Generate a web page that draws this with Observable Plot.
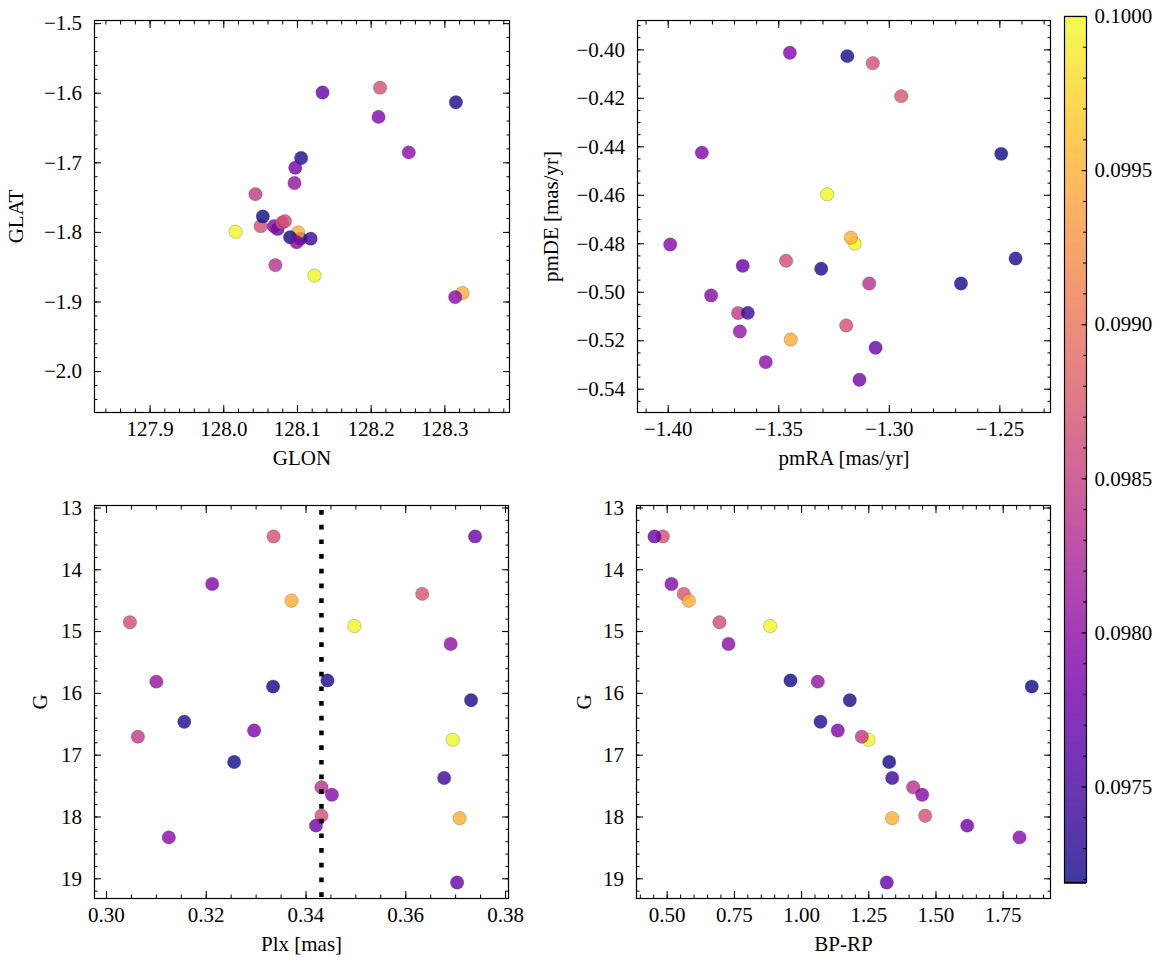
<!DOCTYPE html>
<html>
<head>
<meta charset="utf-8">
<script src="https://cdn.jsdelivr.net/npm/d3@7"></script>
<script src="https://cdn.jsdelivr.net/npm/@observablehq/plot@0.6"></script>
<style>
html, body { margin: 0; padding: 0; background: #fff; }
#fig { position: relative; width: 1166px; height: 965px; overflow: hidden; background: #fff; }
#fig svg { position: absolute; left: 0; top: 0; }
</style>
</head>
<body>
<div id="fig"></div>
<script>
// ---- data (one entry per star) ----
const G     = [13.46, 13.46, 14.23, 14.39, 14.50, 14.85, 14.91, 15.20, 15.79, 15.81, 15.89, 16.11, 16.46, 16.60, 16.75, 18.02, 16.70, 17.11, 17.37, 17.52, 17.64, 17.98, 18.14, 18.33, 19.06];
const Plx   = [0.3335, 0.3739, 0.3212, 0.3633, 0.3371, 0.3047, 0.3497, 0.3690, 0.3443, 0.3100, 0.3334, 0.3731, 0.3156, 0.3296, 0.3694, 0.3708, 0.3063, 0.3256, 0.3677, 0.3431, 0.3452, 0.3431, 0.3420, 0.3125, 0.3703];
const BPRP  = [0.4836, 0.4528, 0.5159, 0.5618, 0.5804, 0.6946, 0.8831, 0.7281, 0.9587, 1.0603, 1.8564, 1.1793, 1.0703, 1.1347, 1.2489, 1.3370, 1.2240, 1.3259, 1.3370, 1.4151, 1.4487, 1.4598, 1.6161, 1.8107, 1.3170];
const GLON  = [128.050, 128.073, 128.068, 128.079, 128.324, 128.083, 128.016, 128.251, 128.104, 128.096, 128.053, 128.315, 128.105, 128.210, 128.123, 128.101, 128.043, 128.090, 128.118, 128.070, 128.099, 128.212, 128.097, 128.314, 128.134];
const GLAT  = [-1.791, -1.795, -1.791, -1.786, -1.887, -1.784, -1.799, -1.685, -1.809, -1.729, -1.777, -1.613, -1.693, -1.634, -1.862, -1.800, -1.745, -1.807, -1.809, -1.847, -1.814, -1.592, -1.707, -1.893, -1.599];
const pmRA  = [-1.3075, -1.3663, -1.3450, -1.2946, -1.3446, -1.3467, -1.3281, -1.3559, -1.3190, -1.3676, -1.2494, -1.3308, -1.2429, -1.3848, -1.3157, -1.3174, -1.3684, -1.2676, -1.3640, -1.3091, -1.3991, -1.3195, -1.3135, -1.3806, -1.3062];
const pmDE  = [-0.4055, -0.4891, -0.4012, -0.4191, -0.5195, -0.4870, -0.4596, -0.5288, -0.4026, -0.5162, -0.4429, -0.4903, -0.4861, -0.4424, -0.4799, -0.4775, -0.5086, -0.4964, -0.5085, -0.4964, -0.4803, -0.5137, -0.5361, -0.5013, -0.5229];
const Cval  = [0.09865, 0.09772, 0.09792, 0.09872, 0.09948, 0.09863, 0.09998, 0.09800, 0.09722, 0.09805, 0.09720, 0.09724, 0.09726, 0.09790, 0.10000, 0.09950, 0.09845, 0.09721, 0.09740, 0.09836, 0.09795, 0.09868, 0.09780, 0.09795, 0.09770];
const plxRef = [0.3431];

// ---- axis limits and tick labels ----
const glonDomain = [127.8246, 128.3877];
const glatDomain = [-2.0588, -1.4955];
const pmraDomain = [-1.4139, -1.2271];
const pmdeDomain = [-0.5496, -0.3879];
const plxDomain  = [0.2976, 0.3806];
const gDomain    = [19.319, 12.96];
const bprpDomain = [0.3858, 1.926];
const colorDomain = [0.09719, 0.1000];

const glonTicks = [127.9, 128.0, 128.1, 128.2, 128.3];
const glatTicks = [-1.5, -1.6, -1.7, -1.8, -1.9, -2.0];
const pmraTicks = [-1.40, -1.35, -1.30, -1.25];
const pmdeTicks = [-0.40, -0.42, -0.44, -0.46, -0.48, -0.50, -0.52, -0.54];
const plxTicks  = [0.30, 0.32, 0.34, 0.36, 0.38];
const gTicks    = [13, 14, 15, 16, 17, 18, 19];
const bprpTicks = [0.50, 0.75, 1.00, 1.25, 1.50, 1.75];
const cbarTicks = [0.0975, 0.0980, 0.0985, 0.0990, 0.0995, 0.1000];

const stars = G.map((g, i) => ({
  G: g, Plx: Plx[i], BPRP: BPRP[i], GLON: GLON[i], GLAT: GLAT[i],
  pmRA: pmRA[i], pmDE: pmDE[i], c: Cval[i]
}));

function minorTicks(domain, step) {
  const lo = Math.min(...domain), hi = Math.max(...domain);
  const out = [];
  for (let k = Math.ceil(lo / step - 1e-9); k * step <= hi + 1e-12; k++) out.push(+(k * step).toFixed(8));
  return out;
}

const W = 1166, H = 965;
const FONT = "'Liberation Serif', 'Times New Roman', serif";
const colorScale = {type: "linear", scheme: "plasma", domain: colorDomain};
const baseStyle = {fontFamily: FONT, fontSize: "21px", color: "#000", background: "transparent", overflow: "visible"};
const blank = () => "";

function panel(o) {
  const [fx0, fy0, fx1, fy1] = o.frame;
  const xMinor = minorTicks(o.xDomain, o.xStep);
  const yMinor = minorTicks(o.yDomain, o.yStep);
  return Plot.plot({
    width: W, height: H,
    marginLeft: fx0, marginRight: W - fx1, marginTop: fy0, marginBottom: H - fy1,
    x: {domain: o.xDomain},
    y: {domain: o.yDomain},
    color: colorScale,
    style: baseStyle,
    marks: [
      Plot.dot(stars, {x: o.x, y: o.y, fill: "c", r: 6.7, fillOpacity: 0.8,
                       stroke: "#222", strokeWidth: 0.4, strokeOpacity: 0.6}),
      ...(o.extra || []),
      Plot.frame({stroke: "#000", strokeWidth: 1.2}),
      Plot.axisX(o.xTicks, {anchor: "bottom", tickSize: -7, tickFormat: blank, label: null}),
      Plot.axisX(xMinor, {anchor: "bottom", tickSize: -3.5, tickFormat: blank, label: null}),
      Plot.axisX(o.xTicks, {anchor: "top", tickSize: -7, tickFormat: blank, label: null}),
      Plot.axisX(xMinor, {anchor: "top", tickSize: -3.5, tickFormat: blank, label: null}),
      Plot.axisY(o.yTicks, {anchor: "left", tickSize: -7, tickFormat: blank, label: null}),
      Plot.axisY(yMinor, {anchor: "left", tickSize: -3.5, tickFormat: blank, label: null}),
      Plot.axisY(o.yTicks, {anchor: "right", tickSize: -7, tickFormat: blank, label: null}),
      Plot.axisY(yMinor, {anchor: "right", tickSize: -3.5, tickFormat: blank, label: null}),
      Plot.axisX(o.xTicks, {anchor: "bottom", tickSize: 0, tickPadding: 9, tickFormat: o.xFmt, label: null}),
      Plot.axisY(o.yTicks, {anchor: "left", tickSize: 0, tickPadding: 12.5, tickFormat: o.yFmt, label: null}),
      Plot.text([o.xLabel], {text: d => d, frameAnchor: "bottom", dy: 46, lineAnchor: "middle", fill: "#000"}),
      Plot.text([o.yLabel], {text: d => d, frameAnchor: "left", dx: o.yLabelDx, rotate: -90, lineAnchor: "middle", textAnchor: "middle", fill: "#000"})
    ]
  });
}

const fig = document.getElementById("fig");

fig.appendChild(panel({
  frame: [94, 20, 509, 412], x: "GLON", y: "GLAT",
  xDomain: glonDomain, yDomain: glatDomain, xTicks: glonTicks, yTicks: glatTicks,
  xStep: 0.02, yStep: 0.02, xFmt: d3.format(".1f"), yFmt: d3.format(".1f"),
  xLabel: "GLON", yLabel: "GLAT", yLabelDx: -78
}));

fig.appendChild(panel({
  frame: [637, 20, 1050, 412], x: "pmRA", y: "pmDE",
  xDomain: pmraDomain, yDomain: pmdeDomain, xTicks: pmraTicks, yTicks: pmdeTicks,
  xStep: 0.01, yStep: 0.005, xFmt: d3.format(".2f"), yFmt: d3.format(".2f"),
  xLabel: "pmRA [mas/yr]", yLabel: "pmDE [mas/yr]", yLabelDx: -86
}));

fig.appendChild(panel({
  frame: [94, 505, 508, 898], x: "Plx", y: "G",
  xDomain: plxDomain, yDomain: gDomain, xTicks: plxTicks, yTicks: gTicks,
  xStep: 0.005, yStep: 0.2, xFmt: d3.format(".2f"), yFmt: d3.format("d"),
  xLabel: "Plx [mas]", yLabel: "G", yLabelDx: -54,
  extra: [Plot.ruleX(plxRef, {x: d => d, stroke: "#000", strokeWidth: 4.5, strokeDasharray: "4.7,10", strokeDashoffset: 9.7})]
}));

fig.appendChild(panel({
  frame: [636, 505, 1050, 898], x: "BPRP", y: "G",
  xDomain: bprpDomain, yDomain: gDomain, xTicks: bprpTicks, yTicks: gTicks,
  xStep: 0.05, yStep: 0.2, xFmt: d3.format(".2f"), yFmt: d3.format("d"),
  xLabel: "BP-RP", yLabel: "G", yLabelDx: -52
}));

// ---- colorbar (plasma ramp drawn at the same 0.8 alpha as the points) ----
const ramp = d3.range(401).map(i => colorDomain[0] + (colorDomain[1] - colorDomain[0]) * i / 400);
const cbMinor = minorTicks(colorDomain, 0.0001);
const rampColor = v => d3.interpolateRgb("#ffffff",
  d3.interpolatePlasma((v - colorDomain[0]) / (colorDomain[1] - colorDomain[0])))(0.8);
fig.appendChild(Plot.plot({
  width: W, height: H,
  marginLeft: 1064, marginRight: W - 1086, marginTop: 16, marginBottom: H - 882,
  y: {domain: colorDomain},
  style: baseStyle,
  marks: [
    Plot.ruleY(ramp, {y: d => d, stroke: d => rampColor(d), strokeWidth: 3}),
    Plot.frame({stroke: "#000", strokeWidth: 1.2}),
    Plot.axisY(cbarTicks, {anchor: "right", tickSize: -5.5, tickFormat: blank, label: null}),
    Plot.axisY(cbMinor, {anchor: "right", tickSize: -4, tickFormat: blank, label: null}),
    Plot.axisY(cbarTicks, {anchor: "right", tickSize: 0, tickPadding: 8, tickFormat: d3.format(".4f"), label: null})
  ]
}));
</script>
</body>
</html>
